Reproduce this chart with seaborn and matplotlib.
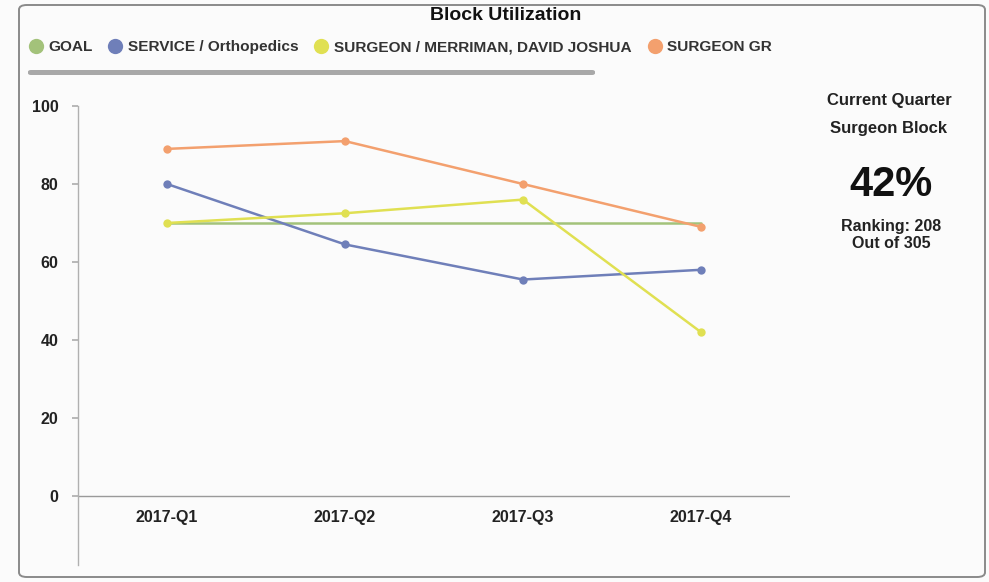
import matplotlib
matplotlib.use("Agg")
import matplotlib.pyplot as plt
from matplotlib.patches import FancyBboxPatch
from matplotlib.lines import Line2D
import seaborn as sns
import pandas as pd

quarters = ["2017-Q1", "2017-Q2", "2017-Q3", "2017-Q4"]
goal = [70, 70, 70, 70]
service = [80, 64.5, 55.5, 58]
surgeon = [70, 72.5, 76, 42]
surgeon_gr = [89, 91, 80, 69]
series_names = ["GOAL", "SERVICE / Orthopedics", "SURGEON / MERRIMAN, DAVID JOSHUA", "SURGEON GR"]
y_ticks = [0, 20, 40, 60, 80, 100]
colors = ["#a3c27a", "#6f7fb9", "#e0e052", "#f3a06e"]

sns.set_theme(style="white")
plt.rcParams["font.family"] = ["Liberation Sans", "DejaVu Sans"]

rows = []
for name, vals in zip(series_names, [goal, service, surgeon, surgeon_gr]):
    for q, v in zip(quarters, vals):
        rows.append({"Quarter": q, "Value": v, "Series": name})
df = pd.DataFrame(rows)

fig = plt.figure(figsize=(9.89, 5.82), dpi=100)
fig.patch.set_facecolor("#fbfbfb")
W, H = 989, 582

# outer frame
frame = FancyBboxPatch((19 / W, 5 / H), (985 - 19) / W, (577 - 5) / H,
                       boxstyle="round,pad=0,rounding_size=0.008",
                       transform=fig.transFigure, facecolor="none",
                       edgecolor="#8a8a8a", linewidth=1.4, zorder=-1)
fig.patches.append(frame)

ax_left, ax_right = 78 / W, 790 / W
ax_top, ax_bottom = 106 / H, 565 / H
ax = fig.add_axes([ax_left, 1 - ax_bottom, ax_right - ax_left, ax_bottom - ax_top])
ax.set_facecolor("none")

sns.lineplot(data=df, x="Quarter", y="Value", hue="Series", palette=colors,
             marker="o", markersize=6, markeredgewidth=0, linewidth=1.8,
             legend=False, ax=ax, sort=False)
# the GOAL series is drawn without point markers
for ln in ax.lines:
    if matplotlib.colors.to_hex(ln.get_color()) == colors[0]:
        ln.set_marker("None")

ax.set_xlim(-0.5, 3.5)
ax.set_ylim(-17.7, 100)
ax.set_yticks(y_ticks)
ax.set_xlabel("")
ax.set_ylabel("")
for s in ["top", "right", "bottom"]:
    ax.spines[s].set_visible(False)
ax.spines["left"].set_color("#b0b0b0")
ax.spines["left"].set_linewidth(1.0)
ax.axhline(0, color="#9a9a9a", linewidth=1.0, zorder=0.5)
ax.tick_params(axis="y", which="both", left=True, length=4, color="#b0b0b0",
               pad=10, labelsize=11.5)
ax.tick_params(axis="x", bottom=False, labelsize=11.5, pad=0)
for lab in ax.get_yticklabels():
    lab.set_fontweight("bold")
    lab.set_color("#222222")
ax.set_xticks(range(len(quarters)))
ax.set_xticklabels([])
for i, q in enumerate(quarters):
    ax.text(i, -5.5, q, ha="center", va="center", fontsize=11.5,
            fontweight="bold", color="#222222")

# title
fig.text(506 / W, 1 - 16 / H, "Block Utilization", ha="center", va="center",
         fontsize=14, fontweight="bold", color="#111111")

# legend
handles = [Line2D([0], [0], marker="o", linestyle="none", markersize=11,
                  markerfacecolor=c, markeredgewidth=0) for c in colors]
leg = fig.legend(handles, series_names, loc="center left",
                 bbox_to_anchor=(14 / W, 1 - 47 / H), ncol=4, frameon=False,
                 handletextpad=0.3, columnspacing=1.0, handlelength=1.0,
                 prop={"size": 11.1, "weight": "bold"})
for t in leg.get_texts():
    t.set_color("#333333")

# scrollbar
bar = FancyBboxPatch((28 / W, 1 - 75 / H), (595 - 28) / W, 5 / H,
                     boxstyle="round,pad=0,rounding_size=0.003",
                     transform=fig.transFigure, facecolor="#a8a8a8",
                     edgecolor="none", zorder=1)
fig.patches.append(bar)

# right panel
fig.text(889 / W, 1 - 100 / H, "Current Quarter", ha="center", va="center",
         fontsize=12, fontweight="bold", color="#222222")
fig.text(889 / W, 1 - 128 / H, "Surgeon Block", ha="center", va="center",
         fontsize=12, fontweight="bold", color="#222222")
fig.text(891 / W, 1 - 185 / H, "42%", ha="center", va="center",
         fontsize=30, fontweight="bold", color="#111111")
fig.text(891 / W, 1 - 226 / H, "Ranking: 208", ha="center", va="center",
         fontsize=11.5, fontweight="bold", color="#222222")
fig.text(891 / W, 1 - 243 / H, "Out of 305", ha="center", va="center",
         fontsize=11.5, fontweight="bold", color="#222222")

fig.savefig("out.png", dpi=100, facecolor=fig.get_facecolor())
